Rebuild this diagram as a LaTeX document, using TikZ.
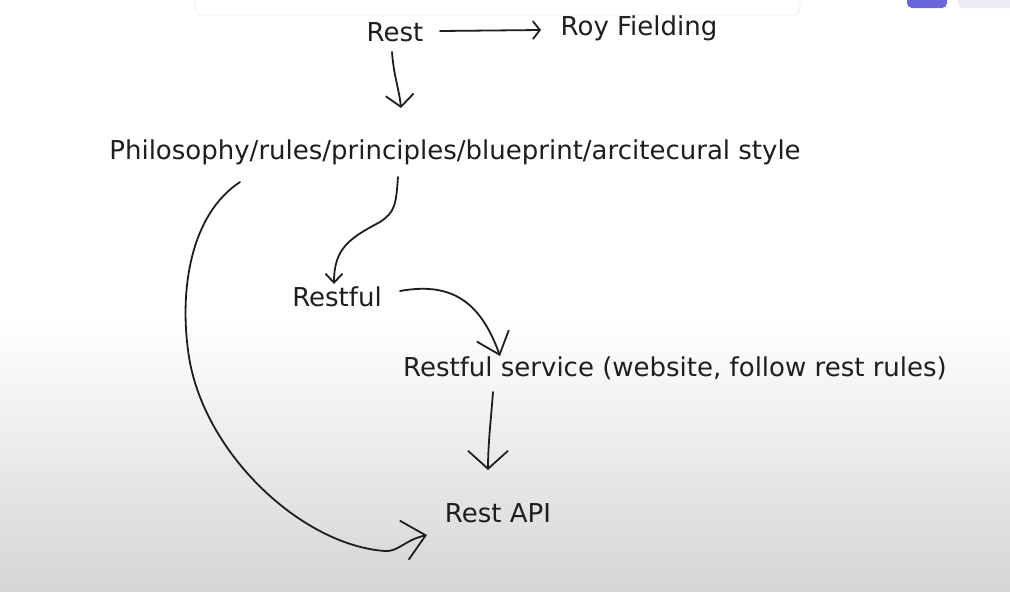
\documentclass[tikz,border=0pt]{standalone}
\usepackage{fontspec}
\setmainfont{DejaVu Sans}
\usetikzlibrary{arrows.meta,calc}
\definecolor{ink}{HTML}{1E1E1E}
\definecolor{bggray}{RGB}{213,213,213}
\definecolor{exbtn}{HTML}{6965DB}
\definecolor{exlight}{HTML}{ECECF4}
\begin{document}
\begin{tikzpicture}[x=1pt,y=-1pt,
  txt/.style={inner sep=0pt,text=ink,font=\fontsize{26}{30}\selectfont},
  conn/.style={draw=ink,line width=1.8pt,line cap=round,line join=round}]
\useasboundingbox (0,0) rectangle (1010,592);
\fill[white] (0,0) rectangle (1010,592);
\shade[top color=white,bottom color=bggray] (0,320) rectangle (1010,592);
% toolbar remnants
\filldraw[fill=white,draw=black!7,line width=0.8pt,rounded corners=8pt] (195,-15) rectangle (800,15);
\fill[exbtn,rounded corners=5pt] (907,-10) rectangle (947,8);
\fill[exlight,rounded corners=5pt] (958,-10) rectangle (1020,8);
% texts
\node[txt] (rest) at (395,32) {Rest};
\node[txt] (roy) at (639,28) {Roy Fielding};
\node[txt] (phil) at (455,152) {Philosophy/rules/principles/blueprint/arcitecural style};
\node[txt] (restful) at (337,297) {Restful};
\node[txt] (service) at (675,368) {Restful service (website, follow rest rules)};
\node[txt] (api) at (498,513) {Rest API};
% connectors
\draw[conn,-{Straight Barb[length=7pt,width=18pt,line width=1.8pt]}]
  ($(rest.center)+(45,-1)$) -- ($(roy.center)+(-98,2)$);
\draw[conn,-{Straight Barb[length=12pt,width=28pt,line width=1.8pt]}]
  ($(rest.center)+(-3,20)$) .. controls ($(rest.center)+(-1,46)$) and ($(phil.center)+(-56,-64)$) .. ($(phil.center)+(-54,-44)$);
\draw[conn,-{Straight Barb[length=9pt,width=17pt,line width=1.8pt]}]
  ($(phil.center)+(-57,25)$) .. controls ($(phil.center)+(-59,53)$) and ($(phil.center)+(-60,60)$) .. ($(phil.center)+(-75,70)$)
  .. controls ($(phil.center)+(-105,86)$) and ($(restful.center)+(-3,-49)$) .. ($(restful.center)+(-3,-13)$);
\draw[conn,-{Straight Barb[length=20pt,width=34pt,line width=1.8pt]}]
  ($(restful.center)+(63,-6)$) .. controls ($(restful.center)+(113,-15)$) and ($(service.center)+(-195,-68)$) .. ($(service.center)+(-175,-12)$);
\draw[conn,-{Straight Barb[length=18pt,width=40pt,line width=1.8pt]}]
  ($(service.center)+(-182,24)$) .. controls ($(service.center)+(-184,51)$) and ($(api.center)+(-10,-69)$) .. ($(api.center)+(-10,-43)$);
\draw[conn,-{Straight Barb[length=22pt,width=40pt,line width=1.8pt]}]
  ($(phil.center)+(-215,30)$) .. controls ($(phil.center)+(-265,63)$) and (180,290) .. (188,350)
  .. controls (200,450) and (300,545) .. (385,551)
  .. controls (398,552) and ($(api.center)+(-93,27)$) .. ($(api.center)+(-71,22)$);
\end{tikzpicture}
\end{document}
